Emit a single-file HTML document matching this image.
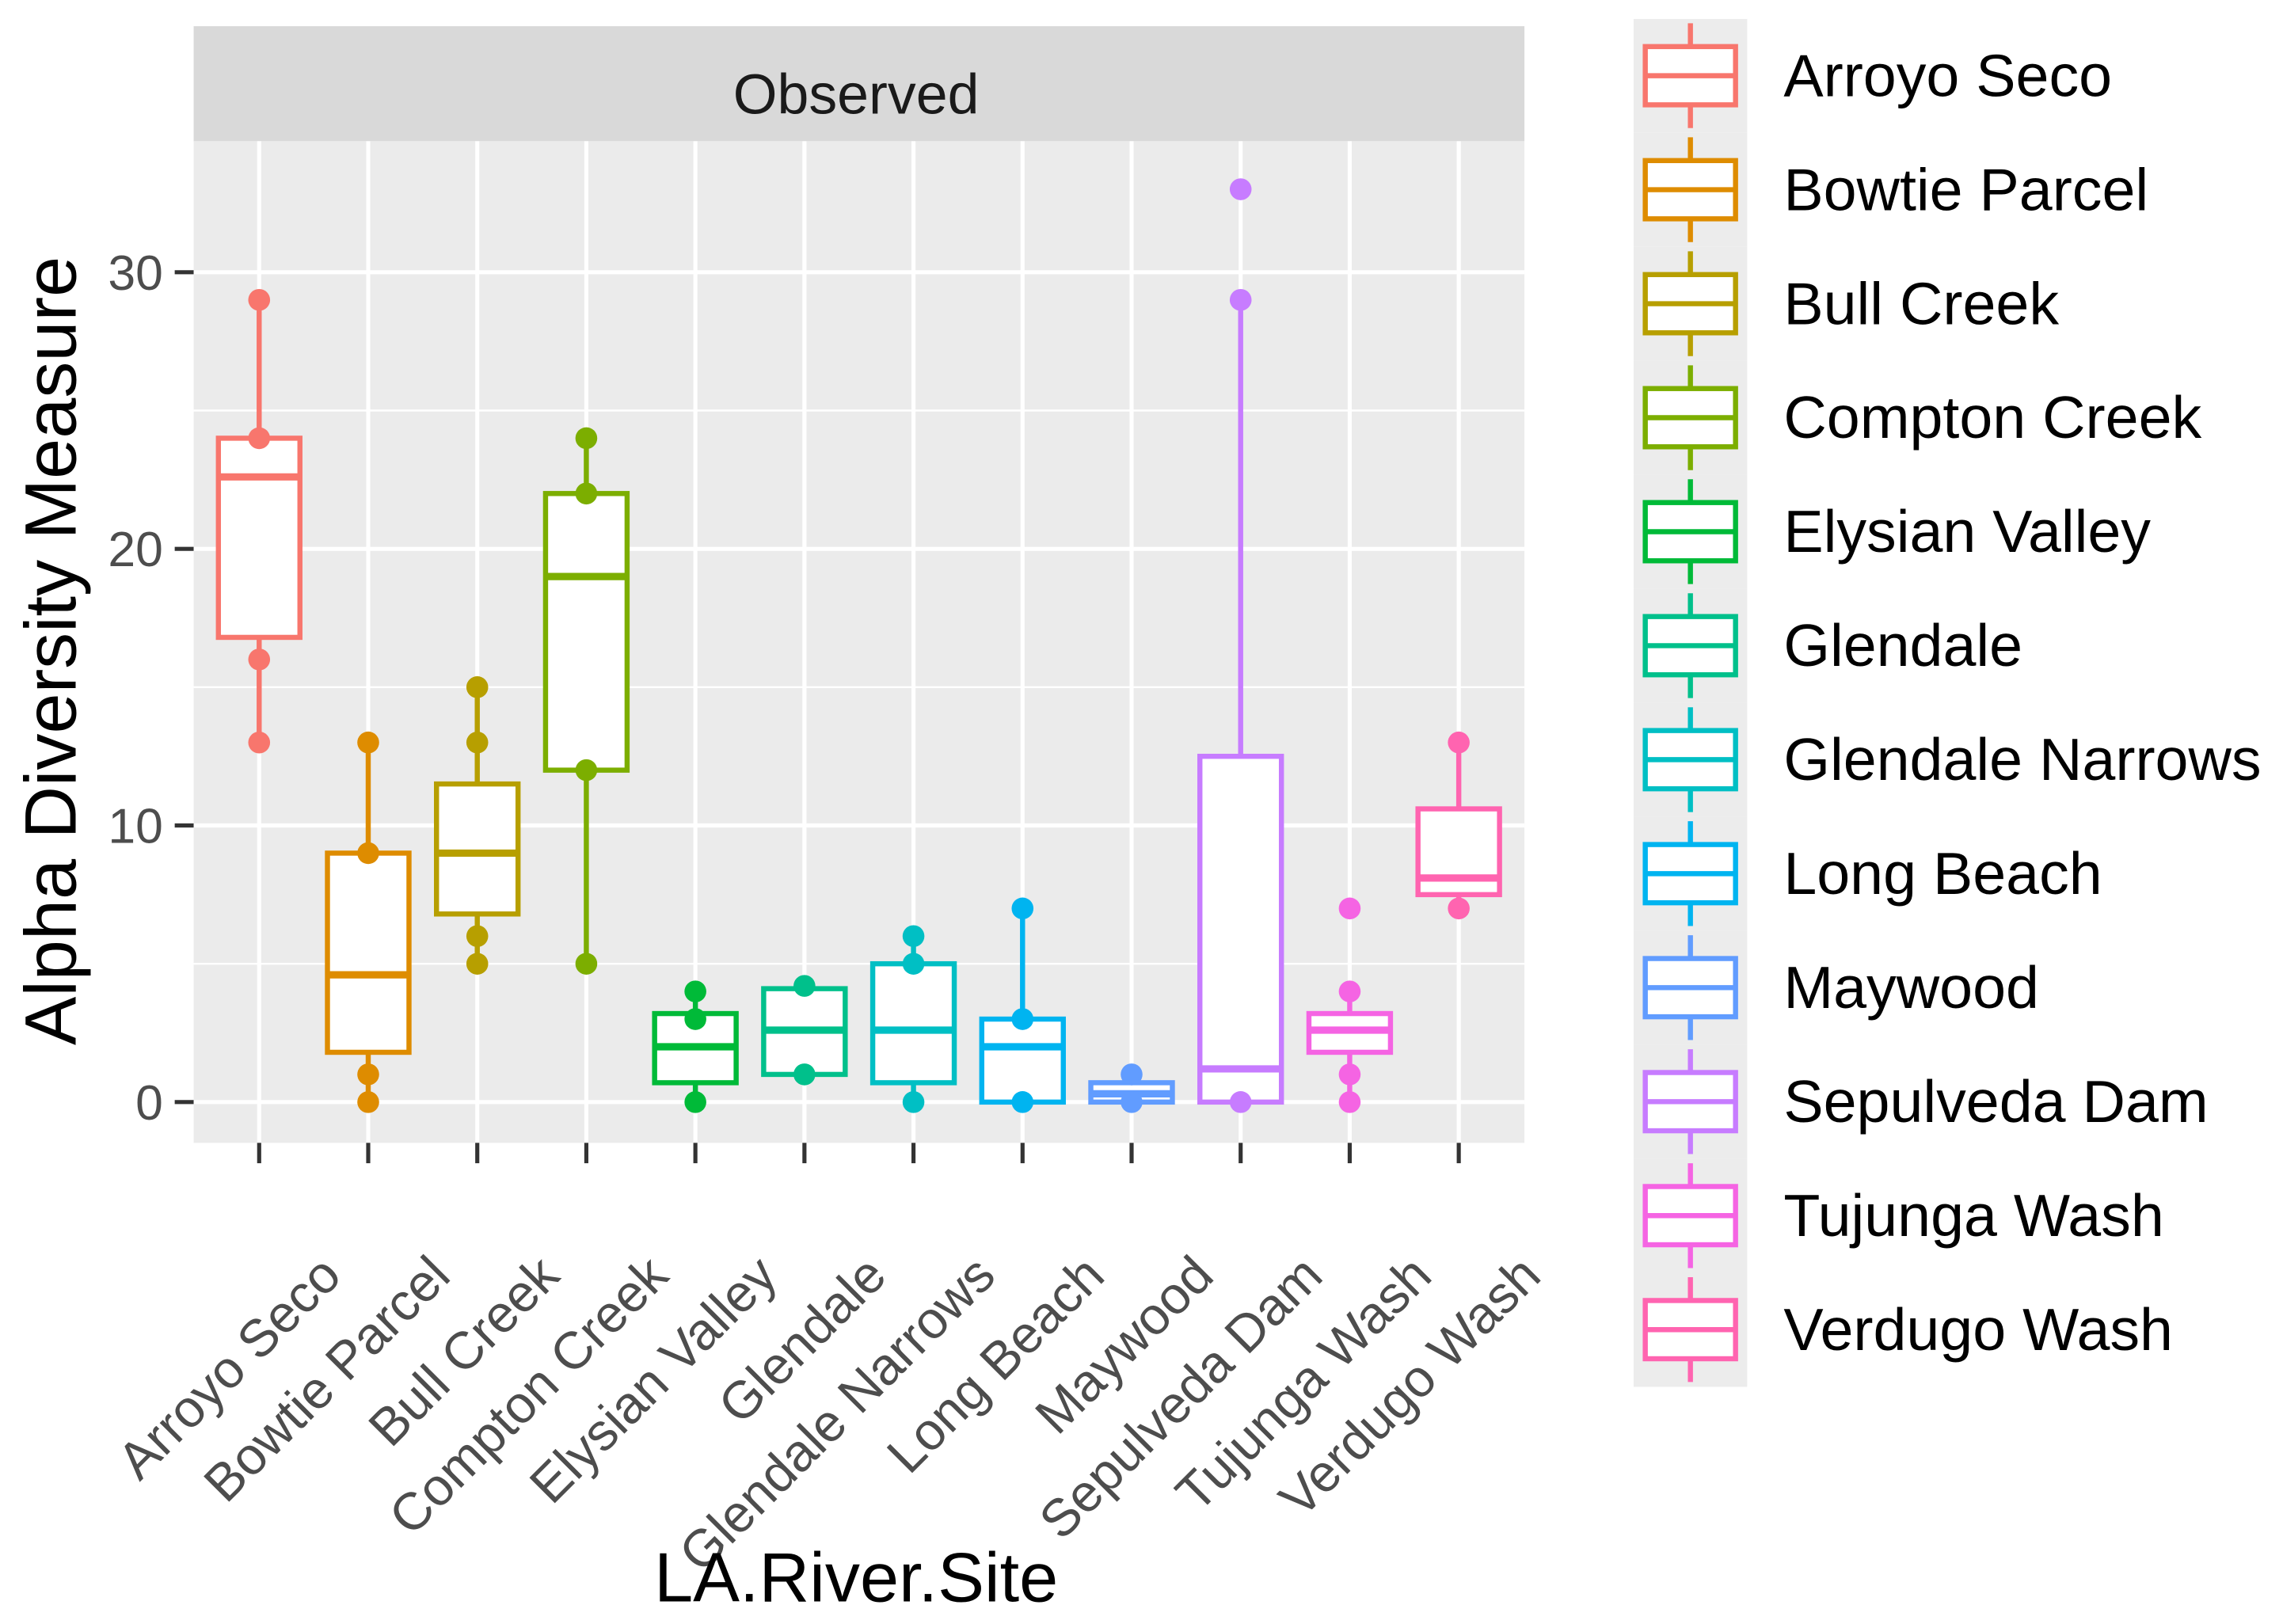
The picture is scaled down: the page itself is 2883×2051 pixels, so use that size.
<!DOCTYPE html>
<html><head><meta charset="utf-8"><style>html,body{margin:0;padding:0;background:#fff}svg{display:block}text{font-family:"Liberation Sans",sans-serif}</style></head>
<body>
<svg id="chart" width="2883" height="2051" viewBox="0 0 1568 1115.5" preserveAspectRatio="none" xmlns="http://www.w3.org/2000/svg">
<rect x="133" y="18" width="914" height="79" fill="#d9d9d9"/>
<text x="588" y="78" font-size="39" text-anchor="middle" fill="#1a1a1a">Observed</text>
<rect x="133" y="97" width="914" height="688" fill="#ebebeb"/>
<g id="grid"></g><g id="boxes"></g><g id="axes"></g><g id="legend"></g>
<text transform="translate(52,447) rotate(-90)" font-size="50" text-anchor="middle" fill="#000">Alpha Diversity Measure</text>
<text x="588" y="1100" font-size="48" text-anchor="middle" fill="#000">LA.River.Site</text>
</svg>
<script>
const categories=["Arroyo Seco","Bowtie Parcel","Bull Creek","Compton Creek","Elysian Valley","Glendale","Glendale Narrows","Long Beach","Maywood","Sepulveda Dam","Tujunga Wash","Verdugo Wash"];
const colors=["#F8766D","#DE8C00","#B79F00","#7CAE00","#00BA38","#00C08B","#00BFC4","#00B4F0","#619CFF","#C77CFF","#F564E3","#FF64B0"];
const q1=[16.8,1.8,6.8,12,0.7,1,0.7,0,0,0,1.8,7.5];
const median=[22.6,4.6,9,19,2,2.6,2.6,2,0.3,1.2,2.6,8.1];
const q3=[24,9,11.5,22,3.2,4.1,5,3,0.7,12.5,3.2,10.6];
const whiskerLow=[13,0,5,5,0,1,0,0,0,0,0,7];
const whiskerHigh=[29,13,15,24,4,4.2,6,7,1,29,4,13];
const points=[[29,24,16,13],[13,9,1,0],[15,13,6,5],[24,22,12,5],[4,3,0],[4.2,1],[6,5,0],[7,3,0],[1,0],[33,29,0],[7,4,1,0],[13,7]];
const yTicks=[0,10,20,30];
const yMinor=[5,15,25];
const NS="http://www.w3.org/2000/svg";
const yS=v=>757-19*v;
const xS=i=>178+i*74.9;
function mk(p,tag,at){const e=document.createElementNS(NS,tag);for(const k in at)e.setAttribute(k,at[k]);p.appendChild(e);return e;}
const grid=document.getElementById('grid'),boxes=document.getElementById('boxes'),axes=document.getElementById('axes'),legend=document.getElementById('legend');
yMinor.forEach(v=>{const l=mk(grid,'line',{x1:133,x2:1047,y1:yS(v),y2:yS(v),stroke:'#fff','stroke-width':1.3});

});
yTicks.forEach(v=>{const l=mk(grid,'line',{x1:133,x2:1047,y1:yS(v),y2:yS(v),stroke:'#fff','stroke-width':2.8});


const t=mk(axes,'line',{x1:120,x2:133,y1:yS(v),y2:yS(v),stroke:'#333','stroke-width':2.8});


const tx=mk(axes,'text',{x:112,y:yS(v)+12,'font-size':34,'text-anchor':'end',fill:'#4d4d4d'});tx.textContent=v;

});
categories.forEach((c,i)=>{const x=xS(i),col=colors[i];
const g=mk(grid,'line',{x1:x,x2:x,y1:97,y2:785,stroke:'#fff','stroke-width':2.8});


const b=mk(boxes,'g',{});


mk(b,'line',{x1:x,x2:x,y1:yS(whiskerHigh[i]),y2:yS(q3[i]),stroke:col,'stroke-width':3.5});
mk(b,'line',{x1:x,x2:x,y1:yS(q1[i]),y2:yS(whiskerLow[i]),stroke:col,'stroke-width':3.5});
mk(b,'rect',{x:x-28,y:yS(q3[i]),width:56,height:Math.max(yS(q1[i])-yS(q3[i]),1),fill:'#fff',stroke:col,'stroke-width':3.5});
mk(b,'line',{x1:x-28,x2:x+28,y1:yS(median[i]),y2:yS(median[i]),stroke:col,'stroke-width':5});
points[i].forEach(p=>{const d=mk(b,'circle',{cx:x,cy:yS(p),r:7.5,fill:col});

});
const t=mk(axes,'line',{x1:x,x2:x,y1:785,y2:799,stroke:'#333','stroke-width':2.8});


const tx=mk(axes,'text',{transform:`translate(${x+58},${878}) rotate(-45)`,'font-size':36,'text-anchor':'end',fill:'#4d4d4d'});tx.textContent=c;


const ly=52+i*78.3;
const le=mk(legend,'g',{});


mk(le,'rect',{x:1122,y:ly-39,width:78,height:78.3,fill:'#ececec'});
mk(le,'line',{x1:1161,x2:1161,y1:ly-36,y2:ly+36,stroke:col,'stroke-width':3.5});
mk(le,'rect',{x:1130,y:ly-20,width:62,height:40,fill:'#fff',stroke:col,'stroke-width':3.5});
mk(le,'line',{x1:1130,x2:1192,y1:ly,y2:ly,stroke:col,'stroke-width':3.5});
const lt=mk(le,'text',{x:1225,y:ly+14,'font-size':41,fill:'#000'});lt.textContent=c;
});
</script>
</body></html>
